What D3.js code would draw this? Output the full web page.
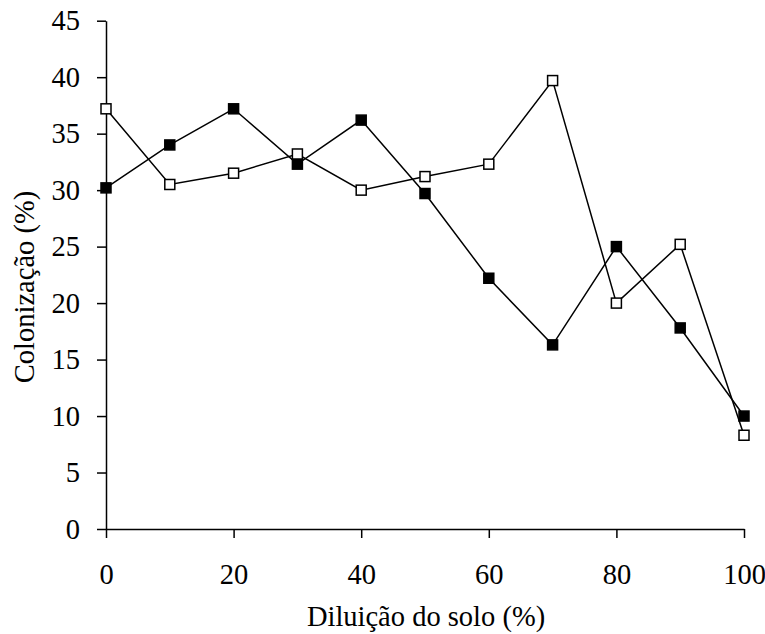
<!DOCTYPE html>
<html><head><meta charset="utf-8">
<script src="https://cdn.jsdelivr.net/npm/d3@7"></script>
<style>body{margin:0;background:#fff}svg{display:block}</style>
</head><body>
<script>
const dilution = [0,10,20,30,40,50,60,70,80,90,100];
const filledSeries = [30.2,34.0,37.2,32.3,36.2,29.7,22.2,16.3,25.0,17.8,10.0];
const openSeries = [37.2,30.5,31.5,33.2,30.0,31.2,32.3,39.7,20.0,25.2,8.3];
const xTicks = [0,20,40,60,80,100];
const yTicks = [0,5,10,15,20,25,30,35,40,45];

const W=765,H=634;
const svg=d3.select("body").append("svg").attr("width",W).attr("height",H);
const x=d3.scaleLinear().domain([0,100]).range([106,744]);
const y=d3.scaleLinear().domain([0,45]).range([529,20.7]);
const font="'Liberation Serif','Times New Roman',serif";
const fs=28.5;

const xa=svg.append("g").attr("transform","translate(0,529)")
  .call(d3.axisBottom(x).tickValues(xTicks).tickSize(9).tickPadding(26).tickSizeOuter(0));
const ya=svg.append("g").attr("transform","translate(106,0)")
  .call(d3.axisLeft(y).tickValues(yTicks).tickSize(9).tickPadding(17).tickSizeOuter(0));
[xa,ya].forEach(g=>{
  g.selectAll("path,line").attr("stroke","#000").attr("stroke-width",1.5);
  g.selectAll("text").attr("font-family",font).attr("font-size",fs).attr("fill","#000");
});

const line=d3.line().x((d,i)=>x(dilution[i])).y(d=>y(d));
function series(vals,fill){
  svg.append("path").datum(vals).attr("d",line).attr("fill","none").attr("stroke","#000").attr("stroke-width",1.5);
  svg.append("g").selectAll("rect").data(vals).join("rect")
    .attr("x",(d,i)=>x(dilution[i])-5).attr("y",d=>y(d)-5)
    .attr("width",10).attr("height",10)
    .attr("fill",fill).attr("stroke","#000").attr("stroke-width",1.5);
}
series(filledSeries,"#000");
series(openSeries,"#fff");

svg.append("text").attr("x",426).attr("y",626).attr("text-anchor","middle")
  .attr("font-family",font).attr("font-size",fs).text("Diluição do solo (%)");
svg.append("text").attr("transform","translate(34,287) rotate(-90)").attr("text-anchor","middle")
  .attr("font-family",font).attr("font-size",fs).text("Colonização (%)");
</script>
</body></html>
